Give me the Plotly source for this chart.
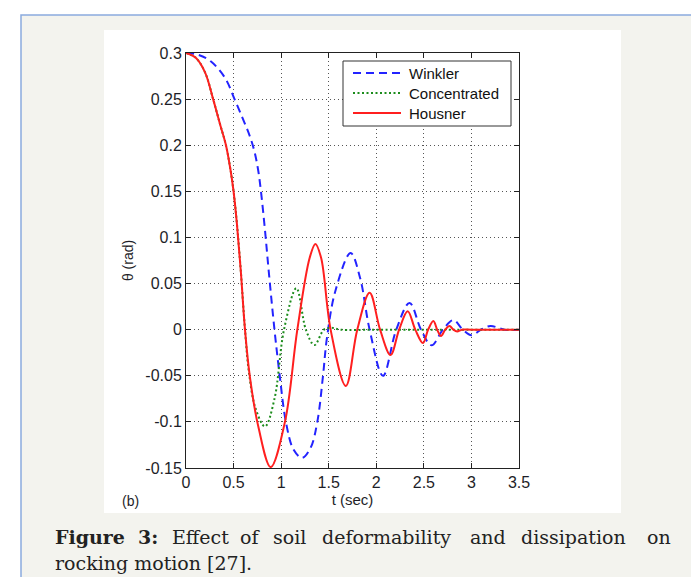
import plotly.graph_objects as go

# ---------------- data ----------------
t_winkler = [0, 0.13, 0.26, 0.41, 0.51, 0.60, 0.67, 0.72, 0.76, 0.79, 0.83, 0.87, 0.93, 0.985,
             1.05, 1.13, 1.22, 1.31, 1.38, 1.44, 1.48, 1.57, 1.73, 1.83, 1.93, 2.07, 2.21, 2.35,
             2.47, 2.58, 2.70, 2.81, 2.91, 3.0, 3.1, 3.2, 3.35, 3.5]
th_winkler = [0.3, 0.298, 0.291, 0.273, 0.25, 0.228, 0.210, 0.193, 0.172, 0.148, 0.108, 0.063,
              0.0, -0.05, -0.1, -0.13, -0.139, -0.128, -0.1, -0.05, -0.01, 0.042, 0.083, 0.056,
              0.0, -0.050, 0.0, 0.029, 0.0, -0.017, 0.0, 0.0104, 0.0, -0.006, 0.0, 0.004, 0.0, 0.0]

t_conc = [0, 0.1, 0.2, 0.285, 0.36, 0.42, 0.465, 0.50, 0.535, 0.575, 0.62, 0.66, 0.73, 0.83,
          0.93, 1.03, 1.16, 1.26, 1.35, 1.45, 1.53, 1.62, 2.0, 2.8, 3.5]
th_conc = [0.3, 0.295, 0.279, 0.25, 0.222, 0.2, 0.175, 0.15, 0.115, 0.065, 0.0, -0.045, -0.085,
           -0.105, -0.075, 0.0, 0.045, 0.0, -0.0167, 0.0, 0.002, 0.0, 0.0, 0.0, 0.0]

t_housner = [0, 0.1, 0.2, 0.285, 0.36, 0.42, 0.465, 0.50, 0.535, 0.575, 0.62, 0.67, 0.76, 0.89,
             1.04, 1.17, 1.30, 1.36, 1.42, 1.52, 1.68, 1.80, 1.93, 2.04, 2.15, 2.24, 2.33,
             2.41, 2.49, 2.545, 2.60, 2.64, 2.68, 2.725, 2.77, 2.81, 2.85, 2.90, 3.0, 3.5]
th_housner = [0.3, 0.295, 0.279, 0.25, 0.222, 0.2, 0.175, 0.15, 0.115, 0.065, 0.0, -0.05, -0.105,
              -0.149, -0.1, 0.0, 0.078, 0.093, 0.078, 0.0, -0.061, 0.0, 0.040, 0.0, -0.0275, 0.0,
              0.020, 0.0, -0.0145, 0.0, 0.0093, 0.0, -0.0069, 0.0, 0.0039, 0.0, -0.002, 0.0, 0.0,
              0.0]

series_names = ["Winkler", "Concentrated", "Housner"]
series_colors = ["#2323ff", "#1c8c1c", "#ff1f1f"]
series_dash = ["8px,5px", "2px,2.5px", "solid"]

x_tickvals = [0, 0.5, 1, 1.5, 2, 2.5, 3, 3.5]
x_ticktext = ["0", "0.5", "1", "1.5", "2", "2.5", "3", "3.5"]
y_tickvals = [0.3, 0.25, 0.2, 0.15, 0.1, 0.05, 0, -0.05, -0.1, -0.15]
y_ticktext = ["0.3", "0.25", "0.2", "0.15", "0.1", "0.05", "0", "-0.05", "-0.1", "-0.15"]

caption_line1 = [("<b>Figure</b>", 45), ("<b>3:</b>", 128), ("Effect", 162), ("of", 230),
                 ("soil", 263), ("deformability", 312), ("and", 460), ("dissipation", 511),
                 ("on", 637)]
caption_line2 = "rocking motion [27]."

# ---------------- layout geometry ----------------
W, H = 699, 577
L, R, T, B = 178, 511, 45, 460   # plot area in pixels


def fx(px):
    return (px - L) / (R - L)


def fy(py):
    return (B - py) / (B - T)


SANS = "Liberation Sans, Arial, sans-serif"
SERIF = "DejaVu Serif, serif"

fig = go.Figure()
series = [(t_winkler, th_winkler), (t_conc, th_conc), (t_housner, th_housner)]
for (tx, ty), name, col, dash in zip(series, series_names, series_colors, series_dash):
    fig.add_trace(go.Scatter(x=tx, y=ty, name=name, mode="lines", showlegend=False,
                             line=dict(color=col, width=2, dash=dash, shape="spline",
                                       smoothing=1.0)))

axis_common = dict(showline=True, linecolor="#222", linewidth=1, mirror="ticks",
                   ticks="inside", ticklen=5, tickcolor="#222", tickwidth=1,
                   showgrid=True, gridcolor="#555", gridwidth=1, griddash="1px,3px",
                   zeroline=False, tickfont=dict(family=SANS, size=16, color="#1e1e28"))

fig.update_xaxes(range=[0, 3.5], tickvals=x_tickvals, ticktext=x_ticktext,
                 title=dict(text="t (sec)", font=dict(family=SANS, size=15, color="#1e1e28"),
                            standoff=2),
                 **axis_common)
fig.update_yaxes(range=[-0.15, 0.3], tickvals=y_tickvals, ticktext=y_ticktext,
                 title=dict(text="θ (rad)", font=dict(family=SANS, size=14, color="#1e1e28"),
                            standoff=8),
                 **axis_common)

shapes = [
    # page frame (light panel with blue border)
    dict(type="rect", xref="paper", yref="paper", x0=fx(13), x1=fx(695), y0=fy(590), y1=fy(7),
         fillcolor="#f3f3ee", line=dict(color="#8aaade", width=1.5), layer="below"),
    # white figure panel
    dict(type="rect", xref="paper", yref="paper", x0=fx(96), x1=fx(613), y0=fy(505), y1=fy(22),
         fillcolor="#ffffff", line=dict(width=0), layer="below"),
    # legend box
    dict(type="rect", xref="paper", yref="paper", x0=fx(335), x1=fx(503), y0=fy(118), y1=fy(53),
         fillcolor="#ffffff", line=dict(color="#333", width=1), layer="above"),
]

annotations = [
    dict(text="(b)", xref="paper", yref="paper", x=fx(112), y=fy(493), xanchor="left",
         yanchor="middle", showarrow=False, font=dict(family=SANS, size=14, color="#1e1e28")),
]

# legend entries (sample line + label)
legend_rows = [65, 85, 105]
for name, col, dash, ypx in zip(series_names, series_colors, series_dash, legend_rows):
    shapes.append(dict(type="line", xref="paper", yref="paper", x0=fx(345), x1=fx(393),
                       y0=fy(ypx), y1=fy(ypx), layer="above",
                       line=dict(color=col, width=2, dash=dash)))
    annotations.append(dict(text=name, xref="paper", yref="paper", x=fx(399), y=fy(ypx),
                            xanchor="left", yanchor="middle", showarrow=False,
                            font=dict(family=SANS, size=15, color="#111")))

for word, xpx in caption_line1:
    annotations.append(dict(text=word, xref="paper", yref="paper", x=fx(xpx), y=fy(529),
                            xanchor="left", yanchor="middle", showarrow=False,
                            font=dict(family=SERIF, size=19, color="#222")))
annotations.append(dict(text=caption_line2, xref="paper", yref="paper", x=fx(45), y=fy(555),
                        xanchor="left", yanchor="middle", showarrow=False,
                        font=dict(family=SERIF, size=19, color="#222")))

fig.update_layout(
    width=W, height=H,
    margin=dict(l=L, r=W - R, t=T, b=H - B),
    paper_bgcolor="#ffffff", plot_bgcolor="#ffffff",
    showlegend=False,
    shapes=shapes, annotations=annotations,
)

fig.write_html("out.html")
